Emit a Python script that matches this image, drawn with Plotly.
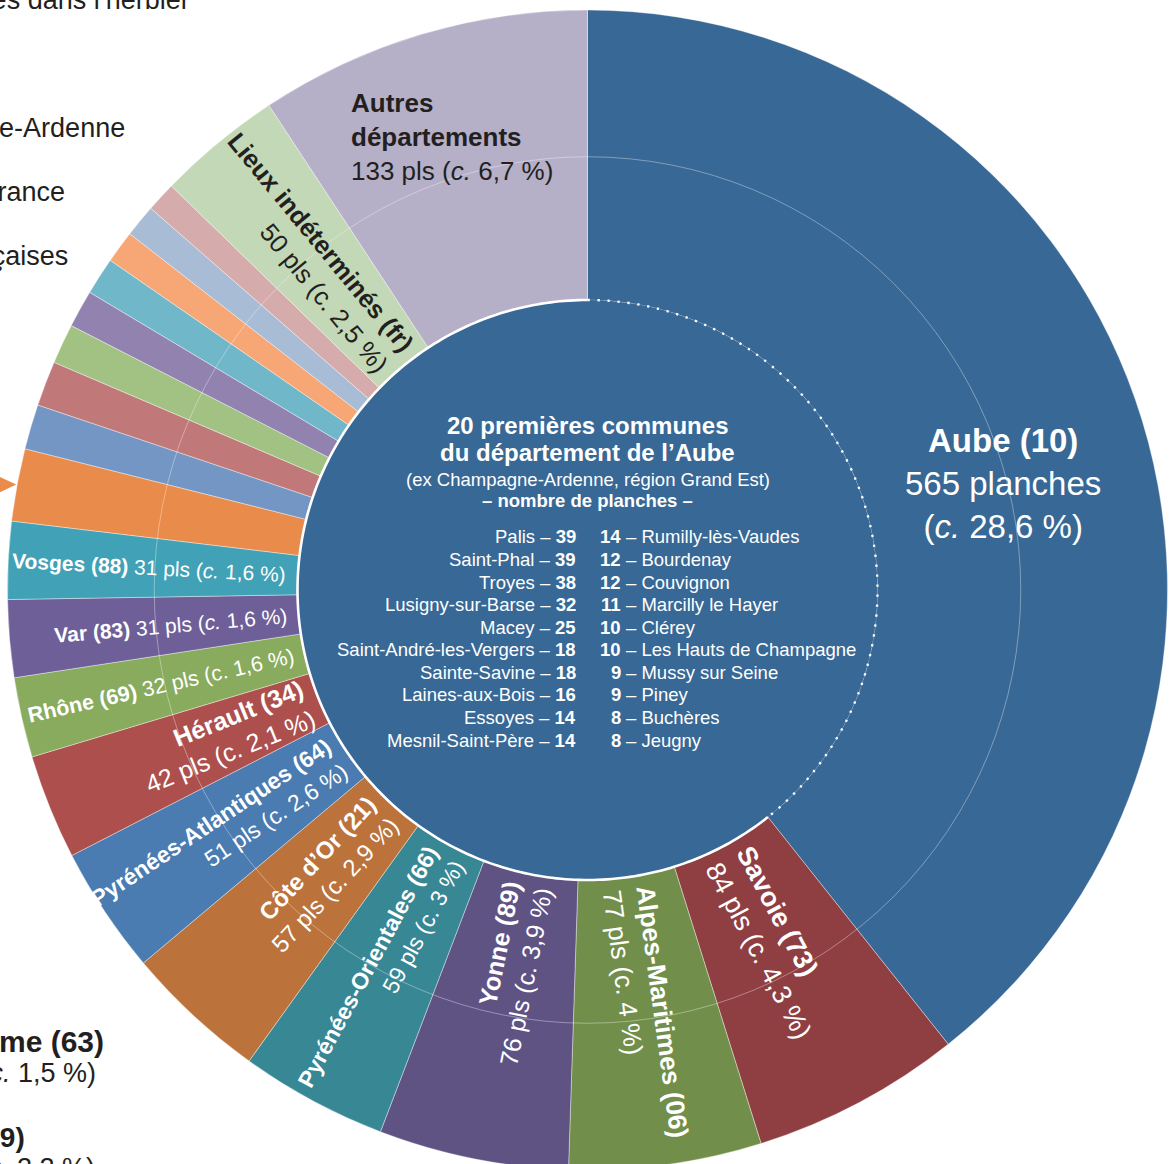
import math
import unicodedata
import plotly.graph_objects as go

W, H = 1175, 1170
FONT = "Liberation Sans, Arial, Helvetica, sans-serif"

# ---------------- data ----------------
departements = [
    "Aube (10)", "Savoie (73)", "Alpes-Maritimes (06)", "Yonne (89)",
    "Pyrénées-Orientales (66)", "Côte d’Or (21)", "Pyrénées-Atlantiques (64)",
    "Hérault (34)", "Rhône (69)", "Var (83)", "Vosges (88)", "Puy-de-Dôme (63)",
    "Département 13", "Département 14", "Département 15", "Département 16",
    "Département 17", "Département 18", "Département 19", "Département 20",
    "Lieux indéterminés (fr)", "Autres départements",
]
planches = [565, 84, 77, 76, 59, 57, 51, 42, 32, 31, 31, 29,
            18, 18, 16, 15, 15, 13, 13, 12, 50, 133]
pourcentages = ["28,6", "4,3", "4", "3,9", "3", "2,9", "2,6", "2,1", "1,6", "1,6", "1,6", "1,5",
                None, None, None, None, None, None, None, None, "2,5", "6,7"]
couleurs = [
    "#386895", "#8f3f42", "#718f4b", "#5f5384", "#388795", "#bb723b", "#4a7bb1",
    "#ad4f4d", "#88ab5e", "#6f5f98", "#41a1b6", "#e98b4a", "#7396c4", "#c07978",
    "#a1c283", "#9282b0", "#6fb7c9", "#f7a676", "#a8bcd5", "#d5abab", "#c3d8b6", "#b5afc8",
]

communes_gauche = ["Palis", "Saint-Phal", "Troyes", "Lusigny-sur-Barse", "Macey",
                   "Saint-André-les-Vergers", "Sainte-Savine", "Laines-aux-Bois",
                   "Essoyes", "Mesnil-Saint-Père"]
planches_gauche = [39, 39, 38, 32, 25, 18, 18, 16, 14, 14]
communes_droite = ["Rumilly-lès-Vaudes", "Bourdenay", "Couvignon", "Marcilly le Hayer",
                   "Clérey", "Les Hauts de Champagne", "Mussy sur Seine", "Piney",
                   "Buchères", "Jeugny"]
planches_droite = [14, 12, 12, 11, 10, 10, 9, 9, 8, 8]

titre_centre = ["20 premières communes", "du département de l’Aube",
                "(ex Champagne-Ardenne, région Grand Est)", "– nombre de planches –"]

# texts of the surrounding figure (cut by the frame)
textes_hors_cadre = [
    ("Planches localisées dans l’herbier", ""),
    ("Champagne-Ardenne", ""),
    ("Reste de la France", ""),
    ("Régions non françaises", ""),
    ("Puy-de-Dôme (63)", "b"),
    ("29 pls (<i>c.</i> 1,5 %)", ""),
    ("Ariège (09)", "b"),
    ("43 pls (<i>c.</i> 2,2 %)", ""),
]

# ---------------- styles / geometry ----------------
CX, CY, R = 587.5, 590.0, 580.0
R_DISC = 0.5 * R
R_RING = 0.747 * R
R_EDGE = R_DISC + 11
DARK = "#231f20"

hors_cadre_pos = [(190, 0, 27), (125, 128, 27), (65, 192, 27), (68, 256, 27),
                  (104, 1041, 30), (96, 1073, 27), (25, 1137, 28), (95, 1168, 27)]

label_style = {
    0: dict(kind="aube", size=33, frac=0.534, rf=0.74),
    1: dict(kind="radial", size=27),
    2: dict(kind="radial", size=26),
    3: dict(kind="radial", size=25),
    4: dict(kind="radial", size=23),
    5: dict(kind="radial", size=24),
    6: dict(kind="radial", size=23),
    7: dict(kind="radial", size=25),
    8: dict(kind="single", size=21.5, italic=False),
    9: dict(kind="single", size=21, italic=True),
    10: dict(kind="single", size=21, italic=True),
    20: dict(kind="radial", size=25.5, color=DARK),
    21: dict(kind="autres", size=26, rf=0.816),
}


def fx(px):
    return px / W


def fy(py):
    return 1 - py / H


def pt(theta, r):
    t = math.radians(theta)
    return CX + r * math.sin(t), CY - r * math.cos(t)


# approximate glyph widths (Arial metrics, 1/1000 em)
REG_W = {' ': 278, '(': 333, ')': 333, '%': 889, ',': 278, '.': 278, '-': 333,
         '–': 556, "'": 191, '’': 222}
BOLD_W = {' ': 278, '(': 333, ')': 333, '%': 889, ',': 278, '.': 278, '-': 333,
          '–': 556, "'": 238, '’': 278}
for ch, w in zip("abcdefghijklmnopqrstuvwxyz",
                 [556, 556, 500, 556, 556, 278, 556, 556, 222, 222, 500, 222, 833, 556, 556, 556,
                  556, 333, 500, 278, 556, 500, 722, 500, 500, 500]):
    REG_W[ch] = w
for ch, w in zip("ABCDEFGHIJKLMNOPQRSTUVWXYZ",
                 [667, 667, 722, 722, 667, 611, 778, 722, 278, 500, 667, 556, 833, 722, 778, 667,
                  778, 722, 667, 611, 722, 667, 944, 667, 667, 611]):
    REG_W[ch] = w
for ch, w in zip("abcdefghijklmnopqrstuvwxyz",
                 [556, 611, 556, 611, 556, 333, 611, 611, 278, 278, 556, 278, 889, 611, 611, 611,
                  611, 389, 556, 333, 611, 556, 778, 556, 556, 500]):
    BOLD_W[ch] = w
for ch, w in zip("ABCDEFGHIJKLMNOPQRSTUVWXYZ",
                 [722, 722, 722, 722, 667, 611, 778, 722, 278, 556, 722, 611, 833, 722, 778, 667,
                  778, 722, 667, 611, 722, 667, 944, 667, 667, 611]):
    BOLD_W[ch] = w


def char_w(ch, bold):
    base = unicodedata.normalize("NFD", ch)[0]
    tbl = BOLD_W if bold else REG_W
    if base.isdigit():
        return 556
    return tbl.get(base, 556)


def html_line(segs):
    out = ""
    for t, s in segs:
        out += f"<{s}>{t}</{s}>" if s else t
    return out


def width_line(segs, size):
    return sum(char_w(ch, s == "b") for t, s in segs for ch in t) * size / 1000


def pls_segs(n, pct, italic, word="pls"):
    return [(f"{n} {word} (", ""), ("c.", "i" if italic else ""), (f" {pct} %)", "")]


# ---------------- figure ----------------
fig = go.Figure()
fig.add_trace(go.Pie(
    labels=departements, values=planches, sort=False, direction="clockwise", rotation=0,
    hole=0.5, textinfo="none", hoverinfo="label+value", showlegend=False,
    marker=dict(colors=couleurs, line=dict(color="rgba(255,255,255,0.55)", width=0.7)),
    domain=dict(x=[fx(CX - R), fx(CX + R)], y=[max(0.0, fy(CY + R)), fy(CY - R)]),
))

total = sum(planches)
theta0, theta1 = [], []
acc = 0
for v in planches:
    theta0.append(360.0 * acc / total)
    acc += v
    theta1.append(360.0 * acc / total)


def arc_path(t0, t1, r, n=240):
    pts = [pt(t0 + (t1 - t0) * k / n, r) for k in range(n + 1)]
    return "M " + " L ".join(f"{fx(x):.6f},{fy(y):.6f}" for x, y in pts)


shapes = []
# thin middle ring
shapes.append(dict(type="circle", xref="paper", yref="paper", layer="above",
                   x0=fx(CX - R_RING), x1=fx(CX + R_RING), y0=fy(CY + R_RING), y1=fy(CY - R_RING),
                   line=dict(color="rgba(255,255,255,0.45)", width=0.8)))
# central disc (Aube communes)
shapes.append(dict(type="circle", xref="paper", yref="paper", layer="above",
                   x0=fx(CX - R_DISC), x1=fx(CX + R_DISC), y0=fy(CY + R_DISC), y1=fy(CY - R_DISC),
                   fillcolor=couleurs[0], line=dict(width=0)))
# solid white outline where disc meets other slices
shapes.append(dict(type="path", xref="paper", yref="paper", layer="above",
                   path=arc_path(theta1[0], 360, R_DISC), line=dict(color="white", width=2.6)))
# dotted outline where disc meets Aube slice
shapes.append(dict(type="path", xref="paper", yref="paper", layer="above",
                   path=arc_path(0, theta1[0], R_DISC),
                   line=dict(color="white", width=2.3, dash="2.3px,7.7px")))
# orange arrow pointing to the Puy-de-Dôme slice
tm = (theta0[11] + theta1[11]) / 2
tx, ty = pt(tm, R + 1)
shapes.append(dict(type="path", xref="paper", yref="paper", layer="above",
                   path=f"M {fx(tx)},{fy(ty)} L {fx(tx - 17)},{fy(ty - 8)} L {fx(tx - 17)},{fy(ty + 8)} Z",
                   fillcolor=couleurs[11], line=dict(width=0)))

annotations = []


def ann(px, py, text, size, color="white", angle=0, align="center", xanchor="center",
        yanchor="middle"):
    annotations.append(dict(x=fx(px), y=fy(py), xref="paper", yref="paper", text=text,
                            showarrow=False, textangle=angle, align=align, xanchor=xanchor,
                            yanchor=yanchor, borderpad=0, borderwidth=0,
                            font=dict(size=size, color=color, family=FONT)))


for i, st in label_style.items():
    name, n, pct = departements[i], planches[i], pourcentages[i]
    size = st["size"]
    color = st.get("color", "white")
    tm = (theta0[i] + theta1[i]) / 2
    if st["kind"] == "aube":
        lines = [[(name, "b")], [(f"{n} planches", "")], [("(", ""), ("c.", "i"), (f" {pct} %)", "")]]
        th = theta0[i] + st["frac"] * (theta1[i] - theta0[i])
        px, py = pt(th, st["rf"] * R)
        ann(px, py, "<br>".join(html_line(l) for l in lines), size, color)
        continue
    if st["kind"] == "autres":
        words = name.split(" ")
        lines = [[(w_, "b")] for w_ in words] + [pls_segs(n, pct, True)]
        px, py = pt(tm, st["rf"] * R)
        ann(px, py, "<br>".join(html_line(l) for l in lines), size, DARK, align="left")
        continue
    if st["kind"] == "single":
        lines = [[(name, "b"), (" ", "")] + pls_segs(n, pct, st["italic"])]
    else:
        lines = [[(name, "b")], pls_segs(n, pct, False)]
    if tm < 180:
        angle, align = tm - 90, "left"
    else:
        angle, align = tm - 270, "right"
    wt = max(width_line(l, size) for l in lines)
    px, py = pt(tm, R_EDGE + wt / 2)
    ann(px, py, "<br>".join(html_line(l) for l in lines), size, color, angle=angle, align=align)

# central disc texts
title_dy = [-165, -137, -111, -90]
title_size = [24, 24, 18.5, 18.5]
title_bold = [True, True, False, True]
for t, dy, s, b in zip(titre_centre, title_dy, title_size, title_bold):
    ann(CX, CY + dy, f"<b>{t}</b>" if b else t, s)

ROW0, ROW_STEP, LIST_SIZE = -53, 22.56, 18.5
for k in range(len(communes_gauche)):
    y = CY + ROW0 + k * ROW_STEP
    ann(CX - 11.5, y, f"{communes_gauche[k]} – <b>{planches_gauche[k]}</b>", LIST_SIZE,
        xanchor="right", align="right")
    ann(CX + 33.5, y, f"<b>{planches_droite[k]}</b>", LIST_SIZE, xanchor="right", align="right")
    ann(CX + 38.5, y, f"– {communes_droite[k]}", LIST_SIZE, xanchor="left", align="left")

# surrounding texts, cut by the frame
for (t, s), (xr, yc, size) in zip(textes_hors_cadre, hors_cadre_pos):
    ann(xr, yc, f"<b>{t}</b>" if s == "b" else t, size, DARK, xanchor="right", align="right")

fig.update_layout(
    width=W, height=H, margin=dict(l=0, r=0, t=0, b=0),
    paper_bgcolor="white", plot_bgcolor="white",
    shapes=shapes, annotations=annotations, showlegend=False,
    font=dict(family=FONT),
)
fig.write_html(
    "out.html",
    config={"displayModeBar": False},
    post_script=("document.body.style.margin='0';"
                 "document.body.style.overflow='hidden';"
                 "document.documentElement.style.overflow='hidden';"),
)
